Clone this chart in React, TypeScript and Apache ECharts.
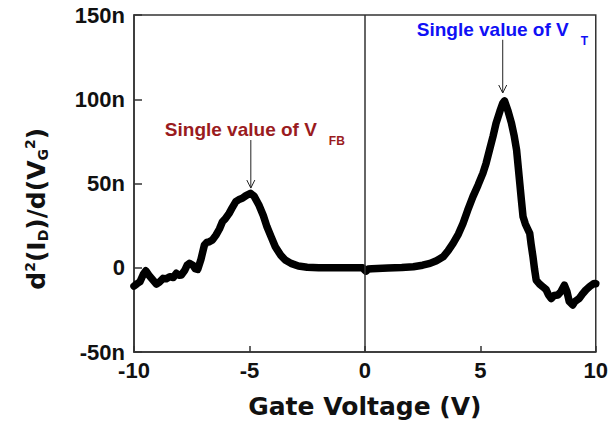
import React, { useEffect, useRef } from "react";
import * as echarts from "echarts";

// Gate voltage (V)
const gateVoltage = [
  -10, -9.87, -9.74, -9.6, -9.49, -9.35, -9.24, -9.03, -8.9, -8.74, -8.6, -8.45, -8.3, -8.17, -8.05,
  -7.95, -7.8, -7.7, -7.6, -7.45, -7.35, -7.24, -7.1, -6.95, -6.85, -6.74, -6.6, -6.45, -6.3, -6.17,
  -6.05, -5.88, -5.75, -5.59, -5.45, -5.31, -5.15, -4.95, -4.8, -4.59, -4.4, -4.24, -4.05, -3.88,
  -3.65, -3.45, -3.2, -2.88, -2.5, -2.0, -1.0, -0.1, 0, 0.05, 0.15, 0.3, 1, 1.6, 2.1, 2.5, 2.82,
  3.1, 3.39, 3.6, 3.82, 4.05, 4.25, 4.45, 4.68, 4.9, 5.11, 5.25, 5.4, 5.55, 5.68, 5.85, 5.97, 6.05,
  6.2, 6.35, 6.47, 6.57, 6.64, 6.71, 6.78, 6.85, 6.95, 7.05, 7.14, 7.2, 7.28, 7.35, 7.42, 7.55, 7.71,
  7.85, 7.95, 8.07, 8.2, 8.36, 8.5, 8.64, 8.75, 8.85, 9.0, 9.1, 9.28, 9.4, 9.57, 9.75, 9.93, 10,
];
// d2(ID)/d(VG2) in units of n
const secondDerivative = [
  -10.9, -9.5, -8.3, -4, -1.8, -4.5, -6.3, -9.7, -8.5, -6.3, -6.5, -5.3, -5.8, -3.3, -4.5,
  -4.3, -1.5, 1.5, 2.6, 1.5, -0.5, -1, 5, 13.5, 15, 15.4, 16.5, 19.4, 23, 27.3,
  29, 32.3, 35.5, 39.2, 40.5, 41.2, 42.8, 44.2, 42.5, 37.2, 31, 24.3, 18, 12.5,
  7.5, 4.6, 2.6, 1, 0.3, 0, 0, 0, -1.5, -2, -0.8, -0.6, -0.2, 0.1, 0.6, 1.5, 2.6,
  4.2, 6.5, 10, 14.5, 20, 26.3, 34, 42.2, 49, 56, 62, 70, 78, 85.7, 93, 97.6, 99,
  93, 85.7, 78, 70, 60, 50, 40, 30.3, 26, 23, 20.4, 14, 6.5, -1, -7.3, -9.5, -11.3,
  -13, -16, -18.2, -16.5, -16.2, -14, -10.3, -14, -20, -22.1, -20, -18.2, -16, -13.2, -11, -9.3, -9.5,
];

const xRange = [-10, 10];
const xStep = 5;
const yRange = [-50, 150];
const yStep = 50;

// annotations: [x, arrow tip y, arrow tail y]
const vfbArrow = [-4.94, 47.3, 75.8];
const vtArrow = [5.97, 103.7, 135.3];
const annotationTexts = ["Single value of V", "Single value of V"];
const annotationSubs = ["FB", "T"];
const annotationColors = ["#9A1B1E", "#1010F5"];

const yTitleTokens: [string, string][] = [
  ["d", "m"], ["2", "sup"], ["(I", "m"], ["D", "sub"], [")/d(V", "m"], ["G", "sub"], ["2", "sup"], [")", "m"],
];
const xTitle = "Gate Voltage (V)";

const TICK_FONT = '"Liberation Sans", Arial, sans-serif';
const TITLE_FONT = '"DejaVu Sans", sans-serif';

export default function App() {
  const ref = useRef<HTMLDivElement>(null);
  useEffect(() => {
    document.body.style.margin = "0";
    const chart = echarts.init(ref.current!, null, { renderer: "svg" });
    const axisColor = "#333";
    chart.setOption({
      animation: false,
      backgroundColor: "#fff",
      grid: {
        left: 134, right: 11, top: 15, bottom: 75, containLabel: false,
        show: true, borderColor: axisColor, borderWidth: 1.5, backgroundColor: "transparent",
      },
      xAxis: {
        type: "value", min: xRange[0], max: xRange[1], interval: xStep,
        axisLine: { show: true, onZero: false, lineStyle: { color: axisColor, width: 1.5 } },
        axisTick: { show: true, inside: true, length: 6, lineStyle: { color: axisColor, width: 1.5 } },
        splitLine: { show: false },
        axisLabel: { margin: 7, color: "#111", fontSize: 22, fontWeight: "bold", fontFamily: TICK_FONT },
        name: xTitle, nameLocation: "middle", nameGap: 42,
        nameTextStyle: { color: "#111", fontSize: 25, fontWeight: "bold", fontFamily: TITLE_FONT },
      },
      yAxis: {
        type: "value", min: yRange[0], max: yRange[1], interval: yStep,
        axisLine: { show: true, onZero: false, lineStyle: { color: axisColor, width: 1.5 } },
        axisTick: { show: true, inside: true, length: 8, lineStyle: { color: axisColor, width: 1.5 } },
        splitLine: { show: false },
        axisLabel: {
          margin: 9, color: "#111", fontSize: 22, fontWeight: "bold", fontFamily: TICK_FONT,
          formatter: (v: number) => (v === 0 ? "0" : v + "n"),
        },
      },
      series: [
        {
          type: "line",
          data: gateVoltage.map((x, i) => [x, secondDerivative[i]]),
          showSymbol: false,
          lineStyle: { color: "#000", width: 7.5, cap: "round", join: "round" },
          markLine: {
            silent: true, symbol: ["none", "none"], label: { show: false },
            lineStyle: { color: axisColor, width: 1.5, type: "solid" },
            data: [{ xAxis: 0 }],
          },
          z: 3,
        },
      ],
    });

    const graphics: any[] = [];
    [vfbArrow, vtArrow].forEach((a, i) => {
      const [ax, tipY] = chart.convertToPixel({ gridIndex: 0 }, [a[0], a[1]]) as number[];
      const [, tailY] = chart.convertToPixel({ gridIndex: 0 }, [a[0], a[2]]) as number[];
      graphics.push({ type: "line", shape: { x1: ax, y1: tailY, x2: ax, y2: tipY }, style: { stroke: "#222", lineWidth: 1 }, z: 10 });
      graphics.push({
        type: "polyline", shape: { points: [[ax - 4, tipY - 8], [ax, tipY], [ax + 4, tipY - 8]] },
        style: { stroke: "#222", lineWidth: 1, fill: null }, z: 10,
      });
      graphics.push({
        type: "text", x: ax - 86, y: tailY - 10.6, z: 10,
        style: {
          text: annotationTexts[i], fill: annotationColors[i], font: `bold 19px ${TICK_FONT}`,
          align: "left", textAlign: "left", verticalAlign: "middle", textVerticalAlign: "middle",
        },
      });
      graphics.push({
        type: "text", x: ax + 78, y: tailY + 1, z: 10,
        style: {
          text: annotationSubs[i], fill: annotationColors[i], font: `bold 12px ${TICK_FONT}`,
          align: "left", textAlign: "left", verticalAlign: "middle", textVerticalAlign: "middle",
        },
      });
    });

    // y axis title, built from measured tokens
    const sizes: Record<string, number> = { m: 25, sup: 14, sub: 14 };
    const centers: Record<string, number> = { m: -8.65, sup: -15.3, sub: -2.3 };
    const ctx = document.createElement("canvas").getContext("2d")!;
    let u = 0;
    const children: any[] = [];
    yTitleTokens.forEach(([t, k]) => {
      const font = `bold ${sizes[k]}px ${TITLE_FONT}`;
      ctx.font = font;
      children.push({
        type: "text", x: u, y: centers[k],
        style: { text: t, fill: "#111", font, align: "left", textAlign: "left", verticalAlign: "middle", textVerticalAlign: "middle" },
      });
      u += ctx.measureText(t).width;
    });
    const yTitleCenter = (chart.convertToPixel({ gridIndex: 0 }, [0, 35]) as number[])[1];
    graphics.push({ type: "group", x: 45.5, y: yTitleCenter + u / 2, rotation: Math.PI / 2, children });

    chart.setOption({ graphic: graphics });
    return () => chart.dispose();
  }, []);
  return <div ref={ref} style={{ width: 611, height: 427 }} />;
}
